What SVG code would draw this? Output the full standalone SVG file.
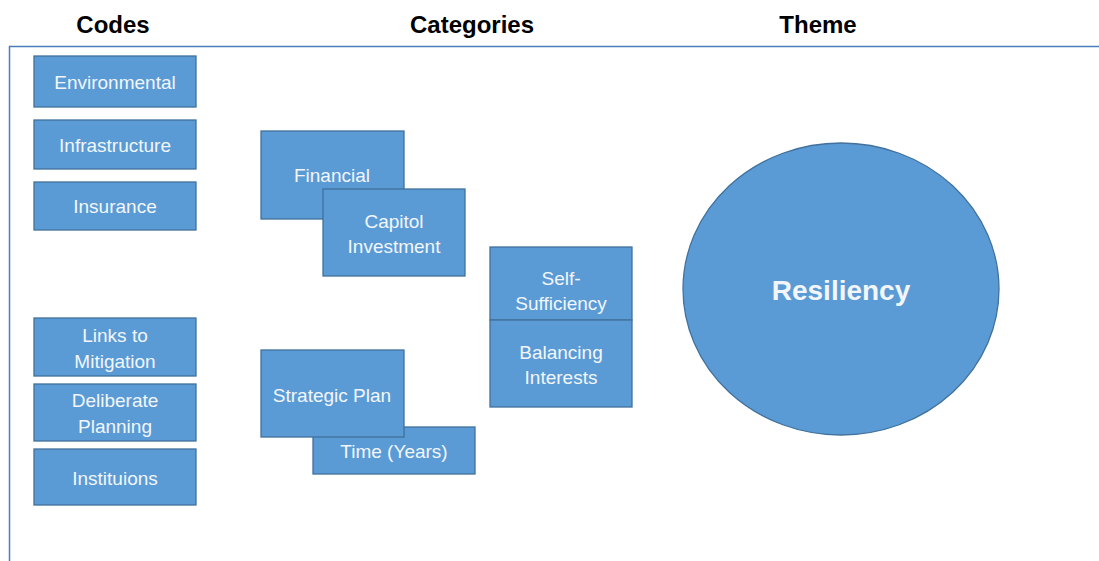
<svg xmlns="http://www.w3.org/2000/svg" width="1099" height="561" viewBox="0 0 1099 561">
<style>
.box{fill:#5b9bd5;stroke:#41719c;stroke-width:1.3}
.t{font-family:"Liberation Sans",Arial,sans-serif;font-size:19px;fill:#f2f6fb;text-anchor:middle}
.h{font-family:"Liberation Sans",Arial,sans-serif;font-size:24px;font-weight:bold;fill:#000;text-anchor:middle}
.frame{fill:none;stroke:#4a7ebb;stroke-width:1.5}
</style>
<rect width="1099" height="561" fill="#fff"/>
<g id="headers">
<text class="h" x="113" y="33">Codes</text>
<text class="h" x="472" y="33">Categories</text>
<text class="h" x="818" y="33">Theme</text>
</g>
<g id="connectors">
<path class="frame" d="M1099 46.5 H9.5 V561"/>
</g>
<g id="environmental"><rect class="box" x="34" y="56" width="162" height="51"/><text class="t" x="115" y="89">Environmental</text></g>
<g id="infrastructure"><rect class="box" x="34" y="120" width="162" height="49"/><text class="t" x="115" y="152">Infrastructure</text></g>
<g id="insurance"><rect class="box" x="34" y="182" width="162" height="48"/><text class="t" x="115" y="213">Insurance</text></g>
<g id="links"><rect class="box" x="34" y="318" width="162" height="58"/><text class="t" x="115" y="342">Links to</text><text class="t" x="115" y="368">Mitigation</text></g>
<g id="deliberate"><rect class="box" x="34" y="384" width="162" height="57"/><text class="t" x="115" y="407">Deliberate</text><text class="t" x="115" y="433">Planning</text></g>
<g id="instituions"><rect class="box" x="34" y="449" width="162" height="56"/><text class="t" x="115" y="485">Instituions</text></g>
<g id="financial"><rect class="box" x="261" y="131" width="143" height="88"/><text class="t" x="332" y="182">Financial</text></g>
<g id="capitol"><rect class="box" x="323" y="189" width="142" height="87"/><text class="t" x="394" y="228">Capitol</text><text class="t" x="394" y="253">Investment</text></g>
<g id="self-sufficiency"><rect class="box" x="490" y="247" width="142" height="73"/><text class="t" x="561" y="285">Self-</text><text class="t" x="561" y="310">Sufficiency</text></g>
<g id="balancing"><rect class="box" x="490" y="320" width="142" height="87"/><text class="t" x="561" y="359">Balancing</text><text class="t" x="561" y="384">Interests</text></g>
<g id="time"><rect class="box" x="313" y="427" width="162" height="47"/><text class="t" x="394" y="458">Time (Years)</text></g>
<g id="strategic"><rect class="box" x="261" y="350" width="143" height="87"/><text class="t" x="332" y="402">Strategic Plan</text></g>
<g id="resiliency"><ellipse class="box" cx="841" cy="289" rx="158" ry="146"/><text x="841" y="300" style="font-family:'Liberation Sans',Arial,sans-serif;font-size:28px;font-weight:bold;fill:#f2f6fb;text-anchor:middle">Resiliency</text></g>
</svg>
